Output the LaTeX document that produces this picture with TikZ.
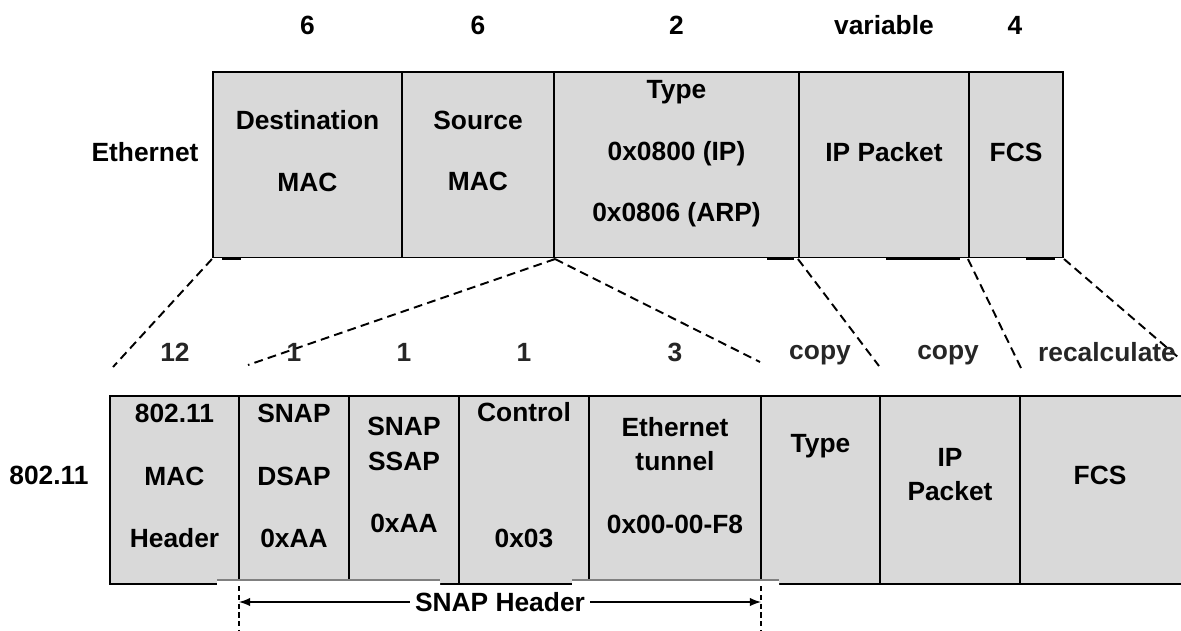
\documentclass[tikz,border=0pt]{standalone}
\usepackage{fontspec}
\setmainfont{Liberation Sans}
\usepackage{xcolor}
\usetikzlibrary{arrows}
\definecolor{fieldgray}{HTML}{D9D9D9}

\begin{document}
\begin{tikzpicture}[x=0.02cm, y=-0.02cm, every node/.style={font=\bfseries\fontsize{15}{19.5}\selectfont}]
        % styles
        \tikzstyle{field} = [rectangle, draw, fill=fieldgray, line width=1.2pt, inner sep=0pt, minimum height=3.72cm]
        \tikzstyle{subfield} = [field, minimum height=3.76cm]
        \tikzstyle{txt} = [align=center, inner sep=0pt]
        \tikzstyle{wide} = [txt, font=\bfseries\fontsize{15}{35}\selectfont]
        \tikzstyle{size} = [txt, text=black!85]
        \tikzstyle{zoomline} = [line width=1.1pt, dash pattern=on 5pt off 3pt]
        \tikzstyle{guide} = [line width=0.8pt, dash pattern=on 3pt off 2pt]
        \tikzstyle{arrow} = [line width=1.2pt, <->, >=latex]

        \useasboundingbox (0,0) rectangle (1181,630);

        % Ethernet frame
        \node (dst) [field, minimum width=3.78cm] at (307.5,165) {};
        \node (src) [field, minimum width=3.04cm] at (478,165) {};
        \node (typ) [field, minimum width=4.9cm] at (676.5,165) {};
        \node (ipk) [field, minimum width=3.4cm] at (884,165) {};
        \node (fcs) [field, minimum width=1.88cm] at (1016,165) {};
        \fill [white] (211,257.8) rectangle (1066,262);
        \draw [line width=1.2pt] (222,259) -- (241,259) (767,259) -- (794,259)
              (886,259) -- (960,259) (1026,259) -- (1055,259);

        \node (eth-l) [txt] at (145,152) {Ethernet};
        \node (dst-t) [wide] at (307.5,151) {Destination\\MAC};
        \node (src-t) [wide] at (478,151) {Source\\MAC};
        \node (typ-t) [wide] at (676.5,154) {Type\\0x0800 (IP)\\0x0806 (ARP)};
        \node (ipk-t) [txt] at (884,152) {IP Packet};
        \node (fcs-t) [txt] at (1016,152) {FCS};

        % byte counts
        \node (n-dst) [txt] at (307.5,25) {6};
        \node (n-src) [txt] at (478,25) {6};
        \node (n-typ) [txt] at (676.5,25) {2};
        \node (n-ipk) [txt] at (884,25) {variable};
        \node (n-fcs) [txt] at (1015,25) {4};

        % 802.11 frame
        \node (mac) [subfield, minimum width=2.58cm] at (174.5,490) {};
        \node (dsap) [subfield, minimum width=2.2cm] at (294,490) {};
        \node (ssap) [subfield, minimum width=2.2cm] at (404,490) {};
        \node (ctrl) [subfield, minimum width=2.6cm] at (524,490) {};
        \node (tun) [subfield, minimum width=3.44cm] at (675,490) {};
        \node (etype) [subfield, minimum width=2.38cm] at (820.5,490) {};
        \node (pkt) [subfield, minimum width=2.8cm] at (950,490) {};
        \node (crc) [subfield, minimum width=3.28cm] at (1102,490) {};
        \fill [white] (217,580) rectangle (440,631) (572,580) rectangle (779,631);
        \draw [gray, line width=1pt] (217,580) -- (440,580) (572,580) -- (779,580);

        \node (wlan-l) [txt] at (49,475) {802.11};
        \node (mac-t) [txt] at (174.5,476) {802.11\\[16pt]MAC\\[16pt]Header};
        \node (dsap-t) [txt] at (294,476) {SNAP\\[16pt]DSAP\\[16pt]0xAA};
        \node (ssap-t) [txt] at (404,475) {SNAP\\SSAP\\[16pt]0xAA};
        \node (ctrl-t) [txt] at (524,475) {Control\\[52pt]0x03};
        \node (tun-t) [txt] at (675,475.5) {Ethernet\\tunnel\\[16pt]0x00-00-F8};
        \node (etype-t) [txt] at (820.5,446) {Type};
        \node (pkt-t) [txt] at (950,474.5) {IP\\Packet};
        \node (crc-t) [txt] at (1100,475) {FCS};

        % zoom lines
        \coordinate (z-mac) at (113,367);
        \coordinate (z-dsap) at (248,365);
        \coordinate (z-tun) at (760,362);
        \coordinate (z-etype) at (879,366);
        \coordinate (z-pkt) at (1021,368);
        \coordinate (z-crc) at (1179,358);
        \draw [zoomline] (dst.south west) -- (z-mac);
        \draw [zoomline] (src.south east) -- (z-dsap);
        \draw [zoomline] (src.south east) -- (z-tun);
        \draw [zoomline] (ipk.south west) -- (z-etype);
        \draw [zoomline] (fcs.south west) -- (z-pkt);
        \draw [zoomline] (fcs.south east) -- (z-crc);

        \node (n-mac) [size] at (175,352) {12};
        \node (n-dsap) [size] at (294,352) {1};
        \node (n-ssap) [size] at (404,352) {1};
        \node (n-ctrl) [size] at (524,352) {1};
        \node (n-tun) [size] at (675,352) {3};
        \node (n-etype) [size] at (820,355) {copy};
        \node (n-pkt) [size] at (948,355) {copy};
        \node (n-crc) [size] at (1107,352) {recalculate};

        % SNAP header span
        \coordinate (s-lt) at (239,586);
        \coordinate (s-lb) at (239,631);
        \coordinate (s-rt) at (761,586);
        \coordinate (s-rb) at (761,631);
        \draw [guide] (s-lt) -- (s-lb);
        \draw [guide] (s-rt) -- (s-rb);
        \coordinate (snap-l) at (239,602);
        \coordinate (snap-r) at (761,602);
        \draw [arrow] (snap-l) -- node (snap-lbl) [fill=white, inner xsep=3pt, inner ysep=1pt] {SNAP Header} (snap-r);
    \end{tikzpicture}
\end{document}
